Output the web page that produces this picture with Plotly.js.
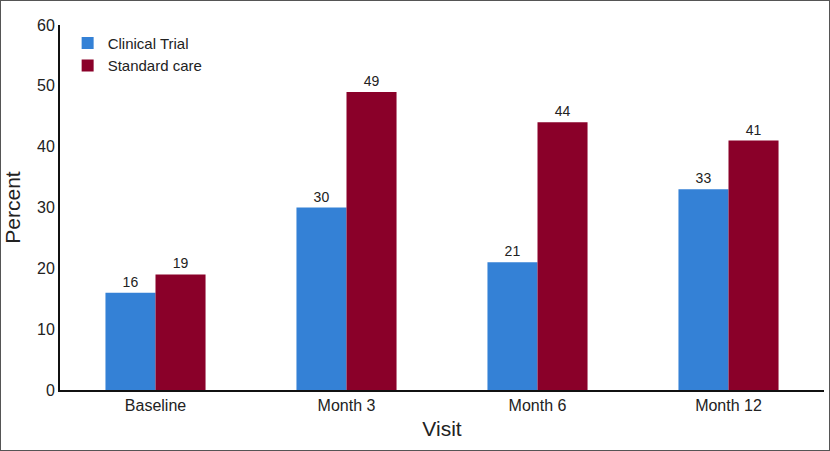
<!DOCTYPE html>
<html>
<head>
<meta charset="utf-8">
<script src="https://cdn.plot.ly/plotly-3.0.1.min.js"></script>
<style>
  html, body { margin: 0; padding: 0; background: #fff; }
  #chart { width: 830px; height: 451px; box-sizing: border-box; border: 1px solid #555; }
</style>
</head>
<body>
<div id="chart"></div>
<script>
const visits = ['Baseline', 'Month 3', 'Month 6', 'Month 12'];
const clinicalTrial = [16, 30, 21, 33];
const standardCare = [19, 49, 44, 41];
const yTicks = [0, 10, 20, 30, 40, 50, 60];

const font = 'Liberation Sans, Arial, sans-serif';

const traces = [
    {
        type: 'bar', name: 'Clinical Trial',
        x: visits, y: clinicalTrial,
        marker: { color: '#3481d6', line: { width: 0 } },
        text: clinicalTrial.map(String), textposition: 'outside',
        textfont: { size: 14, color: '#222' }, cliponaxis: false
    },
    {
        type: 'bar', name: 'Standard care',
        x: visits, y: standardCare,
        marker: { color: '#8a0029', line: { width: 0 } },
        text: standardCare.map(String), textposition: 'outside',
        textfont: { size: 14, color: '#222' }, cliponaxis: false
    }
];

const layout = {
    width: 828, height: 449,
    margin: { l: 59, r: 5, t: 24, b: 60 },
    font: { family: font, color: '#222' },
    paper_bgcolor: '#fff', plot_bgcolor: '#fff',
    barmode: 'group', bargap: 0.476, bargroupgap: 0,
    showlegend: true,
    legend: {
        x: 0.01, y: 0.995, xanchor: 'left', yanchor: 'top',
        font: { size: 15 }, bgcolor: 'rgba(0,0,0,0)', itemwidth: 30,
        tracegroupgap: 0
    },
    xaxis: {
        showline: true, linecolor: '#111', linewidth: 2,
        ticks: '', tickfont: { size: 16 },
        title: { text: 'Visit', font: { size: 21 }, standoff: 8 }
    },
    yaxis: {
        range: [0, 60], tickvals: yTicks,
        showline: true, linecolor: '#111', linewidth: 2,
        showgrid: false, zeroline: false, ticks: '',
        tickfont: { size: 16 },
        title: { text: 'Percent', font: { size: 21 }, standoff: 12 }
    }
};

Plotly.newPlot('chart', traces, layout, { displayModeBar: false, staticPlot: true });
</script>
</body>
</html>
